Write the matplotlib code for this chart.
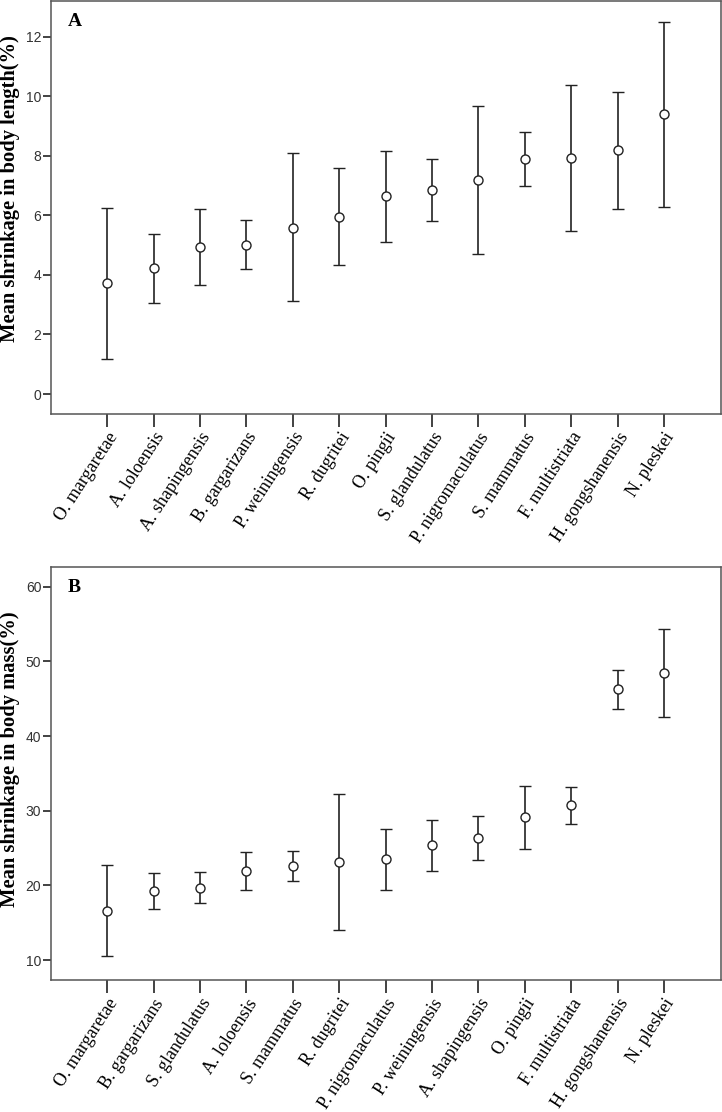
"""
    Mean shrinkage in body length (A) and body mass (B) per species
"""

import matplotlib
matplotlib.use("Agg")
import matplotlib.pyplot as plt

# Panel A - body length
species_a = ["O. margaretae", "A. loloensis", "A. shapingensis", "B. gargarizans",
             "P. weiningensis", "R. dugritei", "O. pingii", "S. glandulatus",
             "P. nigromaculatus", "S. mammatus", "F. multistriata",
             "H. gongshanensis", "N. pleskei"]
mean_a = [3.72, 4.22, 4.93, 5.00, 5.59, 5.95, 6.64, 6.85, 7.18, 7.90, 7.93, 8.18, 9.40]
low_a = [1.19, 3.05, 3.67, 4.19, 3.12, 4.32, 5.12, 5.81, 4.69, 7.00, 5.49, 6.21, 6.29]
high_a = [6.26, 5.37, 6.20, 5.83, 8.09, 7.58, 8.15, 7.90, 9.68, 8.80, 10.37, 10.16, 12.51]

# Panel B - body mass
species_b = ["O. margaretae", "B. gargarizans", "S. glandulatus", "A. loloensis",
             "S. mammatus", "R. dugritei", "P. nigromaculatus", "P. weiningensis",
             "A. shapingensis", "O. pingii", "F. multistriata",
             "H. gongshanensis", "N. pleskei"]
mean_b = [16.6, 19.3, 19.64, 22.0, 22.63, 23.13, 23.54, 25.38, 26.32, 29.15, 30.72, 46.28, 48.48]
low_b = [10.5, 16.9, 17.6, 19.42, 20.63, 14.1, 19.42, 21.88, 23.36, 24.93, 28.25, 43.68, 42.51]
high_b = [22.77, 21.7, 21.8, 24.55, 24.64, 32.29, 27.58, 28.83, 29.24, 33.27, 33.18, 48.88, 54.39]

fig = plt.figure(figsize=(7.22, 11.12), dpi=100)
ax_a = fig.add_axes([0.0706, 0.6277, 0.928, 0.3714])
ax_b = fig.add_axes([0.0706, 0.1184, 0.928, 0.3714])


def desenha(ax, nomes, medias, baixo, alto, yticks, ylim, ylabel, ypos, letra):
    x = list(range(len(nomes)))
    erro = [[m - b for m, b in zip(medias, baixo)],
            [a - m for m, a in zip(medias, alto)]]
    ax.errorbar(x, medias, yerr=erro, fmt="o", mfc="white", mec="#222222",
                ms=6.5, mew=1.0, ecolor="#222222", elinewidth=1.2,
                capsize=4.5, capthick=1.2)
    ax.set_xlim(-1.21, 13.23)
    ax.set_ylim(*ylim)
    ax.set_yticks(yticks)
    ax.set_yticklabels([str(v) for v in yticks], family="Liberation Sans",
                       fontsize=10, color="#333333")
    ax.set_xticks(x)
    ax.set_xticklabels(nomes, rotation=57, ha="right", rotation_mode="anchor",
                       family="Liberation Serif", fontsize=13)
    ax.tick_params(axis="x", length=9, width=1.2, color="#222222", pad=2)
    ax.tick_params(axis="y", length=6, width=1.2, color="#222222", pad=1)
    for sp in ax.spines.values():
        sp.set_color("#555555")
        sp.set_linewidth(1.1)
    ax.set_ylabel(ylabel, family="Liberation Serif", fontweight="bold",
                  fontsize=14.8)
    ax.yaxis.set_label_coords(-0.046, ypos)
    ax.text(0.025, 0.972, letra, transform=ax.transAxes, ha="left", va="top",
            family="Liberation Serif", fontweight="bold", fontsize=14)


desenha(ax_a, species_a, mean_a, low_a, high_a, [0, 2, 4, 6, 8, 10, 12],
        (-0.67, 13.2), "Mean shrinkage in body length(%)", 0.547, "A")
desenha(ax_b, species_b, mean_b, low_b, high_b, [10, 20, 30, 40, 50, 60],
        (7.3, 62.6), "Mean shrinkage in body mass(%)", 0.536, "B")

fig.savefig("out.png", dpi=100)
